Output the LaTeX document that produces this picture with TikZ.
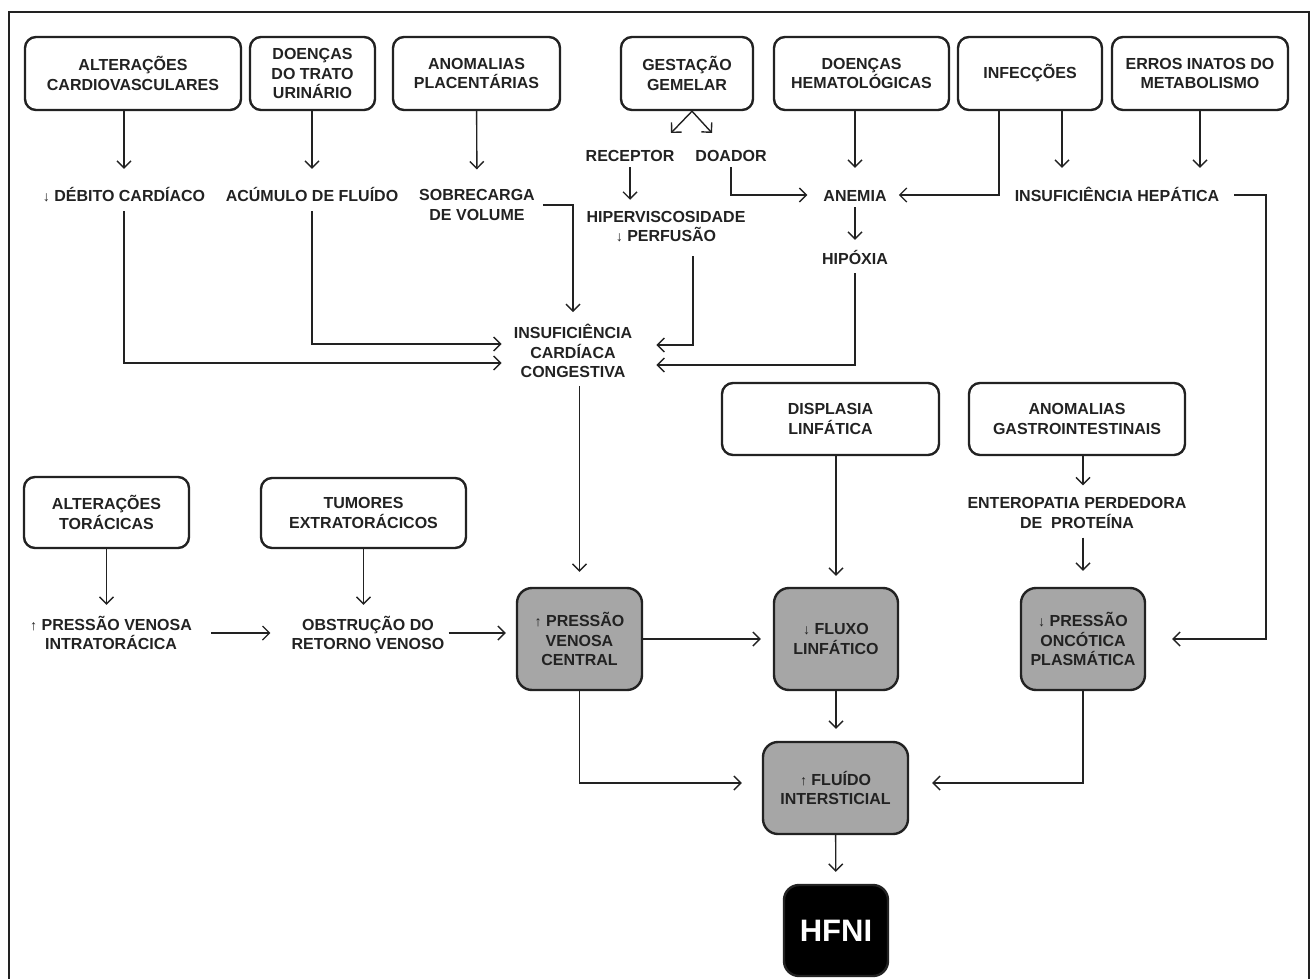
\documentclass[tikz,border=0pt]{standalone}
\usepackage{fontspec}
\setmainfont{Liberation Sans}
\usetikzlibrary{arrows.meta}
\definecolor{ink}{RGB}{34,34,34}
\definecolor{boxgray}{RGB}{166,166,166}
\newcommand\caixafont{\fontsize{16}{19.5}\selectfont\bfseries}
\newcommand\baixo{{\mdseries\fontsize{14}{14}\selectfont ↓}}
\newcommand\alto{{\mdseries\fontsize{14}{14}\selectfont ↑}}

\begin{document}
\begin{tikzpicture}[x=1pt,y=-1pt,
    box/.style={draw=ink, line width=2.4pt, rounded corners=11pt, align=center, font=\caixafont, text=ink, inner sep=2pt, minimum height=73pt},
    gbox/.style={box, fill=boxgray, rounded corners=15pt, minimum height=102pt, minimum width=124pt},
    lbls/.style={align=center, inner sep=0pt, font=\caixafont, text=ink},
    lbl/.style={lbls, text height=12pt, text depth=0pt},
    arr/.style={line width=1.4pt, draw=ink, -{Straight Barb[length=7pt,width=14pt]}}]
    \useasboundingbox (0,0) rectangle (1312,979);
    \draw[line width=2pt, ink] (9,1000) -- (9,12) -- (1309,12) -- (1309,1000); % moldura

    % causas (linha de cima)
    \node[box, minimum width=216pt] (b1) at (133,73.5) {ALTERAÇÕES\\CARDIOVASCULARES};
    \node[box, minimum width=125pt] (b2) at (312.5,73.5) {DOENÇAS\\DO TRATO\\URINÁRIO};
    \node[box, minimum width=167pt] (b3) at (476.5,73.5) {ANOMALIAS\\PLACENTÁRIAS};
    \node[box, minimum width=132pt] (b4) at (687,73.5) {GESTAÇÃO\\GEMELAR};
    \node[box, minimum width=175pt] (b5) at (861.5,73.5) {DOENÇAS\\HEMATOLÓGICAS};
    \node[box, minimum width=144pt] (b6) at (1030,73.5) {INFECÇÕES};
    \node[box, minimum width=176pt] (b7) at (1200,73.5) {ERROS INATOS DO\\METABOLISMO};

    \node[lbl] (deb) at (124,195) {\baixo\ DÉBITO CARDÍACO};
    \node[lbl] (acu) at (312,195) {ACÚMULO DE FLUÍDO};
    \node[lbls] (sob) at (477,205) {SOBRECARGA\\DE VOLUME};
    \node[lbl] (rec) at (630,155) {RECEPTOR};
    \node[lbl] (doa) at (731,155) {DOADOR};
    \node[lbls] (hip) at (666,226.5) {HIPERVISCOSIDADE\\\baixo\ PERFUSÃO};
    \node[lbl] (ane) at (855,195) {ANEMIA};
    \node[lbl] (hep) at (1117,195) {INSUFICIÊNCIA HEPÁTICA};
    \node[lbl] (hpx) at (855,258) {HIPÓXIA};
    \node[lbls] (icc) at (573,351) {INSUFICIÊNCIA\\CARDÍACA\\CONGESTIVA};

    % causas (meio)
    \node[box, minimum width=217pt, minimum height=72pt] (dis) at (830.5,419) {DISPLASIA\\LINFÁTICA};
    \node[box, minimum width=216pt, minimum height=72pt] (gas) at (1077,419) {ANOMALIAS\\GASTROINTESTINAIS};
    \node[box, minimum width=165pt, minimum height=71pt] (tor) at (106.5,512.5) {ALTERAÇÕES\\TORÁCICAS};
    \node[box, minimum width=205pt, minimum height=70pt] (tum) at (363.5,513) {TUMORES\\EXTRATORÁCICOS};
    \node[lbls] (ent) at (1077,513) {ENTEROPATIA PERDEDORA\\DE\ \ PROTEÍNA};
    \node[lbls] (piv) at (111,633) {\alto\ PRESSÃO VENOSA\\INTRATORÁCICA};
    \node[lbls] (obs) at (368,633) {OBSTRUÇÃO DO\\RETORNO VENOSO};

    % mecanismos
    \node[gbox, minimum width=125pt] (pvc) at (579.5,639) {\alto\ PRESSÃO\\VENOSA\\CENTRAL};
    \node[gbox] (flx) at (836,639) {\baixo\ FLUXO\\LINFÁTICO};
    \node[gbox] (onc) at (1083,639) {\baixo\ PRESSÃO\\ONCÓTICA\\PLASMÁTICA};
    \node[gbox, minimum width=145pt, minimum height=92pt] (fli) at (835.5,788) {\alto\ FLUÍDO\\INTERSTICIAL};
    \node[box, fill=black, text=white, font=\fontsize{31}{31}\selectfont\bfseries, rounded corners=15pt, minimum width=104pt, minimum height=91pt] (hfni) at (836,930.5) {HFNI};

    \coordinate (recTip) at (671,133);
    \coordinate (doaTip) at (712,133);
    \coordinate (infL) at (999,0);
    \coordinate (infR) at (1062,0);
    \coordinate (hipX) at (693,0);
    \coordinate (hepR) at (1266,400);

    % setas
    \draw[arr, shorten >=20pt] (b1.south -| deb) -- (deb);
    \draw[arr, shorten >=20pt] (b2.south -| acu) -- (acu);
    \draw[arr, shorten >=20pt] (b3) -- (sob);
    \draw[arr] ([xshift=5pt]b4.south) -- (recTip);
    \draw[arr] ([xshift=5pt]b4.south) -- (doaTip);
    \draw[arr, shorten <=6pt, shorten >=11pt] (rec) -- (rec |- hip.north);
    \draw[arr, shorten <=6pt, shorten >=16pt] (doa) |- (ane);
    \draw[arr, shorten >=21pt] (b5.south -| ane) -- (ane);
    \draw[arr, shorten >=12pt] (b6.south -| infL) |- (ane);
    \draw[arr, shorten >=21pt] (b6.south -| infR) -- (infR |- hep.north);
    \draw[arr, shorten >=21pt] (b7) -- (b7 |- hep.north);
    \draw[arr, shorten <=15pt, shorten >=26pt] (hep) -| (hepR) |- (onc);
    \draw[arr, shorten <=6pt, shorten >=12pt] (ane) -- (hpx);

    \draw[arr, shorten <=10pt, shorten >=12pt] (deb) |- ([yshift=-12pt]icc.west);
    \draw[arr, shorten <=10pt, shorten >=12pt] (acu) |- ([yshift=7pt]icc.west);
    \draw[arr, shorten <=8pt, shorten >=12pt] (sob) -| (icc);
    \draw[arr, shorten <=14pt, shorten >=24pt] (hip.south -| hipX) |- ([yshift=6pt]icc.east);
    \draw[arr, shorten <=9pt, shorten >=24pt] (hpx) |- ([yshift=-14pt]icc.east);
    \draw[arr, shorten <=8pt, shorten >=15pt] (icc.south -| pvc) -- (pvc);

    \draw[arr, shorten >=11pt] (tor) -- (tor |- piv.north);
    \draw[arr, shorten >=11pt] (tum) -- (tum |- obs.north);
    \draw[arr, shorten <=19pt, shorten >=21pt] (piv) -- (obs);
    \draw[arr, shorten <=4pt, shorten >=10pt] (obs.east) -- (obs.east -| pvc.west);
    \draw[arr, shorten >=12pt] (pvc) -- (flx);
    \draw[arr, shorten >=11pt] (dis.south -| flx) -- (flx);
    \draw[arr, shorten >=12pt] (gas.south -| onc) -- (onc |- ent.north);
    \draw[arr, shorten <=9pt, shorten >=16pt] (ent.south -| onc) -- (onc);

    \draw[arr, shorten >=12pt] (flx) -- (flx |- fli.north);
    \draw[arr, shorten >=20pt] (pvc) |- ([yshift=5pt]fli.west);
    \draw[arr, shorten >=23pt] (onc) |- ([yshift=5pt]fli.east);
    \draw[arr, shorten >=12pt] (fli) -- (hfni);
\end{tikzpicture}
\end{document}
